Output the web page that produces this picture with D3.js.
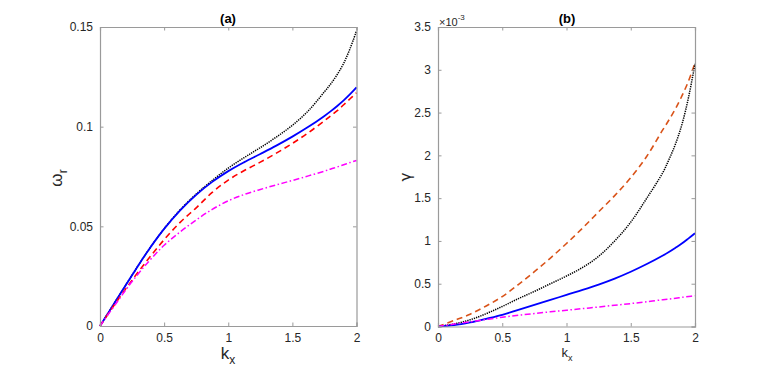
<!DOCTYPE html>
<html><head><meta charset="utf-8">
<script src="https://cdn.jsdelivr.net/npm/d3@7"></script>
<style>
body{margin:0;background:#fff;}
svg{display:block;font-family:"Liberation Sans",Arial,Helvetica,sans-serif;}
</style></head>
<body>
<svg id="chart" width="768" height="371"></svg>
<script>
// shared k grid
const kGrid = [0,0.125,0.25,0.375,0.5,0.625,0.75,0.875,1,1.125,1.25,1.375,1.5,1.625,1.75,1.8,1.85,1.9,1.95,2];

// panel (a): omega_r
const wBlue    = [0,0.0128,0.0255,0.0378,0.0487,0.0580,0.0658,0.0723,0.0777,0.0822,0.0863,0.0905,0.0950,0.0999,0.1054,0.1078,0.1104,0.1132,0.1163,0.1197];
const wBlack   = [0,0.0128,0.0255,0.0378,0.0488,0.0583,0.0662,0.0730,0.0792,0.0845,0.0895,0.0948,0.1007,0.1080,0.1175,0.1215,0.1262,0.1318,0.1392,0.1480];
const wRed     = [0,0.0118,0.023,0.0335,0.0433,0.052,0.0593,0.067,0.0732,0.078,0.0822,0.0867,0.0916,0.097,0.103,0.1055,0.108,0.111,0.114,0.117];
const wMagenta = [0,0.0113,0.0223,0.032,0.0405,0.0472,0.0532,0.0585,0.0628,0.066,0.0685,0.0708,0.0730,0.0753,0.0777,0.0788,0.0798,0.0809,0.082,0.083];

// panel (b): gamma (x 1e-3)
const gRed     = [0,0.07,0.144,0.24,0.35,0.49,0.64,0.80,0.97,1.15,1.34,1.53,1.74,1.99,2.30,2.42,2.55,2.70,2.87,3.08];
const gBlack   = [0,0.03,0.078,0.15,0.234,0.325,0.41,0.50,0.59,0.69,0.82,1.0,1.22,1.50,1.80,1.96,2.14,2.37,2.68,3.07];
const gBlue    = [0,0.015,0.047,0.09,0.136,0.195,0.253,0.31,0.37,0.428,0.49,0.56,0.64,0.73,0.83,0.874,0.922,0.972,1.03,1.09];
const gMagenta = [0,0.028,0.055,0.082,0.108,0.131,0.152,0.172,0.19,0.209,0.228,0.248,0.268,0.29,0.313,0.322,0.331,0.341,0.35,0.36];

const xTicks = [0,0.5,1,1.5,2];
const xTickLabels = ["0","0.5","1","1.5","2"];
const yTicksA = [0,0.05,0.1,0.15];
const yTickLabelsA = ["0","0.05","0.1","0.15"];
const yTicksB = [0,0.5,1,1.5,2,2.5,3,3.5];
const yTickLabelsB = ["0","0.5","1","1.5","2","2.5","3","3.5"];

const svg = d3.select("#chart");
const axisCol = "#9a9a9a", textCol = "#262626";

function panel(opts){
  const {left,right,top,bottom,yMax,yTicks,yLabels,series,title,titleX} = opts;
  const x = d3.scaleLinear().domain([0,2]).range([left,right]);
  const y = d3.scaleLinear().domain([0,yMax]).range([bottom,top]);
  const g = svg.append("g");
  const line = d3.line().x(d=>x(d[0])).y(d=>y(d[1])).curve(d3.curveCatmullRom.alpha(0.5));
  series.forEach(s=>{
    g.append("path").datum(kGrid.map((k,i)=>[k,s.v[i]]))
      .attr("d",line).attr("fill","none").attr("stroke",s.c)
      .attr("stroke-width",s.w).attr("stroke-dasharray",s.dash||null);
  });
  const tl = 3.5;
  const xb = d3.axisBottom(x).tickValues(xTicks).tickSize(-tl).tickFormat((d,i)=>xTickLabels[i]).tickPadding(7);
  const xt = d3.axisTop(x).tickValues(xTicks).tickSize(-tl).tickFormat("");
  const yl = d3.axisLeft(y).tickValues(yTicks).tickSize(-tl).tickFormat((d,i)=>yLabels[i]).tickPadding(7);
  const yr = d3.axisRight(y).tickValues(yTicks).tickSize(-tl).tickFormat("");
  const style = sel=>{
    sel.selectAll("path.domain").attr("stroke",axisCol).attr("stroke-width",1.2);
    sel.selectAll(".tick line").attr("stroke",axisCol).attr("stroke-width",1);
    sel.selectAll(".tick text").attr("fill",textCol).style("font-size","12px").style("font-family","Liberation Sans, Arial, sans-serif");
  };
  g.append("g").attr("transform",`translate(0,${bottom})`).call(xb).call(style);
  g.append("g").attr("transform",`translate(0,${top})`).call(xt).call(style);
  g.append("g").attr("transform",`translate(${left},0)`).call(yl).call(style);
  g.append("g").attr("transform",`translate(${right},0)`).call(yr).call(style);
  g.append("text").attr("x",titleX).attr("y",23).attr("text-anchor","middle")
    .attr("font-weight","bold").attr("font-size","13px").attr("fill","#000").text(title);
  return {g,x,y};
}

panel({left:100,right:356.5,top:27,bottom:326,yMax:0.15,yTicks:yTicksA,yLabels:yTickLabelsA,title:"(a)",titleX:228,
  series:[
    {v:wBlack,c:"#000000",w:1.5,dash:"1.3,1"},
    {v:wBlue,c:"#0000ff",w:1.8},
    {v:wRed,c:"#ff0000",w:1.6,dash:"6,4"},
    {v:wMagenta,c:"#ff00ff",w:1.5,dash:"6,2.5,1.5,2.5"}
  ]});
panel({left:438,right:695,top:27,bottom:326.5,yMax:3.5,yTicks:yTicksB,yLabels:yTickLabelsB,title:"(b)",titleX:567,
  series:[
    {v:gRed,c:"#d95319",w:1.6,dash:"6,4"},
    {v:gBlack,c:"#000000",w:1.5,dash:"1.3,1"},
    {v:gBlue,c:"#0000ff",w:1.8},
    {v:gMagenta,c:"#ff00ff",w:1.5,dash:"6,2.5,1.5,2.5"}
  ]});

// Axis labels
const xa = svg.append("text").attr("x",228).attr("y",359).attr("text-anchor","middle")
  .attr("fill",textCol).attr("font-size","17px");
xa.append("tspan").text("k");
xa.append("tspan").attr("font-size","12px").attr("dy",5).text("x");
const ya = svg.append("text").attr("transform","translate(62,178) rotate(-90)").attr("text-anchor","middle")
  .attr("fill",textCol).attr("font-size","17px");
ya.append("tspan").text("ω");
ya.append("tspan").attr("font-size","12px").attr("dy",5).text("r");
const xbL = svg.append("text").attr("x",567).attr("y",357).attr("text-anchor","middle")
  .attr("fill",textCol).attr("font-size","13px");
xbL.append("tspan").text("k");
xbL.append("tspan").attr("font-size","9px").attr("dy",4).text("x");
svg.append("text").attr("transform","translate(411,177) rotate(-90)").attr("text-anchor","middle")
  .attr("fill",textCol).attr("font-size","15px").style("font-family","DejaVu Sans, sans-serif").text("γ");
const ex = svg.append("text").attr("x",439).attr("y",26).attr("fill",textCol).attr("font-size","11px");
ex.append("tspan").text("×10");
ex.append("tspan").attr("font-size","8px").attr("dy",-6).text("-3");
</script>
</body></html>
